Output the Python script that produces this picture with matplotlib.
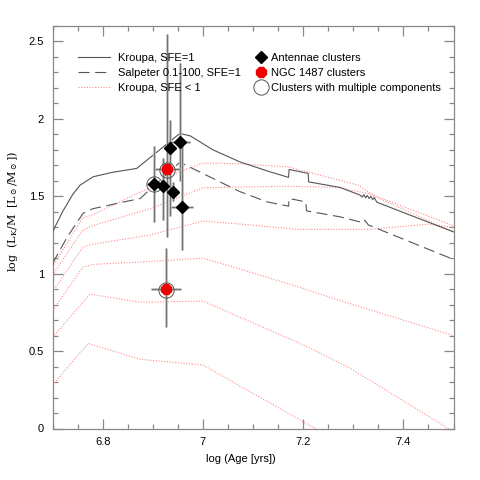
import matplotlib
matplotlib.use("Agg")
import matplotlib.pyplot as plt
from matplotlib.lines import Line2D
from matplotlib.ticker import MultipleLocator

plt.rcParams['font.family'] = ['Liberation Sans', 'DejaVu Sans']
plt.rcParams['mathtext.fontset'] = 'dejavuserif'

# ---------------- model curves ----------------
kroupa_x = [6.70, 6.72, 6.74, 6.755, 6.781, 6.82, 6.868, 6.91, 6.954, 6.975, 7.02, 7.074,
            7.134, 7.171, 7.172, 7.21, 7.211, 7.274, 7.314, 7.318, 7.321, 7.325, 7.328,
            7.332, 7.335, 7.339, 7.342, 7.347, 7.42, 7.50]
kroupa_y = [1.27, 1.40, 1.51, 1.572, 1.626, 1.655, 1.68, 1.79, 1.906, 1.89, 1.80, 1.722,
            1.658, 1.622, 1.673, 1.648, 1.593, 1.557, 1.507, 1.495, 1.51, 1.49, 1.505,
            1.485, 1.50, 1.478, 1.492, 1.462, 1.37, 1.27]

salp_x = [6.70, 6.73, 6.761, 6.781, 6.83, 6.875, 6.954, 7.074, 7.128, 7.171, 7.172,
          7.205, 7.207, 7.274, 7.32, 7.323, 7.33, 7.50]
salp_y = [1.066, 1.24, 1.39, 1.42, 1.455, 1.486, 1.72, 1.53, 1.464, 1.436, 1.486,
          1.464, 1.406, 1.367, 1.329, 1.345, 1.315, 1.092]

sfe_x = [
    [6.70, 6.76, 6.78, 6.87, 6.90, 6.935, 7.00, 7.07, 7.17, 7.31, 7.34, 7.50],
    [6.70, 6.76, 6.78, 6.895, 7.00, 7.17, 7.27, 7.33, 7.50],
    [6.70, 6.76, 6.78, 6.895, 7.00, 7.06, 7.19, 7.33, 7.45, 7.50],
    [6.70, 6.76, 6.78, 6.90, 7.00, 7.07, 7.19, 7.27, 7.50],
    [6.70, 6.775, 6.875, 7.00, 7.194, 7.294, 7.49],
    [6.70, 6.771, 6.875, 7.00, 7.224],
]
sfe_y = [
    [1.045, 1.36, 1.38, 1.52, 1.56, 1.636, 1.715, 1.71, 1.69, 1.572, 1.507, 1.31],
    [0.99, 1.28, 1.31, 1.42, 1.555, 1.565, 1.557, 1.518, 1.27],
    [0.88, 1.17, 1.19, 1.25, 1.34, 1.325, 1.286, 1.286, 1.32, 1.30],
    [0.76, 1.04, 1.06, 1.08, 1.10, 1.034, 0.915, 0.83, 0.60],
    [0.59, 0.868, 0.815, 0.823, 0.55, 0.389, 0.0],
    [0.28, 0.55, 0.447, 0.41, 0.0],
]

# ---------------- clusters ----------------
ant_x = [6.903, 6.920, 6.935, 6.955, 6.940, 6.958]
ant_y = [1.578, 1.566, 1.810, 1.850, 1.530, 1.430]
ant_xerr = [0.015, 0.010, 0.010, 0.020, 0.010, 0.022]
ant_ylo = [0.245, 0.22, 0.44, 0.25, 0.06, 0.28]
ant_yhi = [0.245, 0.18, 0.18, 0.51, 0.06, 0.43]

ngc_x = [6.929, 6.927]
ngc_y = [1.677, 0.898]
ngc_xerr = [0.025, 0.030]
ngc_ylo = [0.44, 0.24]
ngc_yhi = [0.87, 0.27]

multi_x = [6.903, 6.929, 6.927]
multi_y = [1.578, 1.672, 0.893]

fig = plt.figure(figsize=(4.8, 4.8), dpi=100)
ax = fig.add_axes([52.5 / 480, 1 - 428.5 / 480, 401 / 480, 402.5 / 480])

line_col = '#555555'
red_col = '#ff8a8a'

for xs, ys in zip(sfe_x, sfe_y):
    ax.plot(xs, ys, color=red_col, lw=0.8, ls=(0, (1, 1.5)), zorder=2)
ax.plot(salp_x, salp_y, color=line_col, lw=0.8, ls=(0, (10, 5)), zorder=3)
ax.plot(kroupa_x, kroupa_y, color=line_col, lw=0.8, zorder=3)

# error bars: light thick + dark thin
ax.errorbar(ant_x, ant_y, xerr=ant_xerr, yerr=[ant_ylo, ant_yhi], fmt='none',
            ecolor='#c0c0c0', elinewidth=2.0, capsize=0, zorder=4)
ax.errorbar(ant_x, ant_y, xerr=ant_xerr, yerr=[ant_ylo, ant_yhi], fmt='none',
            ecolor='#666666', elinewidth=0.6, capsize=0, zorder=4)
ax.errorbar(ngc_x, ngc_y, xerr=ngc_xerr, yerr=[ngc_ylo, ngc_yhi], fmt='none',
            ecolor='#c0c0c0', elinewidth=2.0, capsize=0, zorder=4)
ax.errorbar(ngc_x, ngc_y, xerr=ngc_xerr, yerr=[ngc_ylo, ngc_yhi], fmt='none',
            ecolor='#666666', elinewidth=0.6, capsize=0, zorder=4)

ax.plot(multi_x, multi_y, ls='none', marker='o', ms=11, mfc='none',
        mec='#555555', mew=0.7, zorder=5)
ax.plot(ant_x, ant_y, ls='none', marker='D', ms=6, color='black', zorder=6)
ax.plot(ngc_x, ngc_y, ls='none', marker='8', ms=8, color='#ee0000', zorder=6)

ax.set_xlim(6.7, 7.5)
ax.set_ylim(0, 2.6)
ax.set_xticks([6.8, 7.0, 7.2, 7.4])
ax.set_xticklabels(['6.8', '7', '7.2', '7.4'])
ax.set_yticks([0, 0.5, 1, 1.5, 2, 2.5])
ax.set_yticklabels(['0', '0.5', '1', '1.5', '2', '2.5'])
ax.xaxis.set_minor_locator(MultipleLocator(0.05))
ax.yaxis.set_minor_locator(MultipleLocator(0.1))
ax.tick_params(which='both', direction='in', top=True, right=True,
               color='#888888', labelsize=8, pad=6)
ax.tick_params(which='major', length=7, width=0.9)
ax.tick_params(which='minor', length=3.5, width=0.9)
for s in ax.spines.values():
    s.set_color('#888888')
    s.set_linewidth(0.9)

ax.set_xlabel('log (Age [yrs])', fontsize=8)
ax.xaxis.set_label_coords(0.47, -0.063)
ax.set_ylabel(r'$\mathrm{log\ \ (L_K/M\ \ [L_\odot/M_\odot])}$', fontsize=8)
ax.yaxis.set_label_coords(-0.082, 0.54)

h1 = [Line2D([], [], color=line_col, lw=0.8),
      Line2D([], [], color=line_col, lw=0.8, ls=(0, (10, 5))),
      Line2D([], [], color=red_col, lw=0.8, ls=(0, (1, 1.5)))]
l1 = ['Kroupa, SFE=1', 'Salpeter 0.1-100, SFE=1', 'Kroupa, SFE < 1']
leg1 = ax.legend(h1, l1, loc='upper left', bbox_to_anchor=(0.064, 0.932),
                 frameon=False, fontsize=8, handlelength=2.9, handletextpad=0.7,
                 labelspacing=0.45, borderpad=0, borderaxespad=0)
ax.add_artist(leg1)

h2 = [Line2D([], [], ls='none', marker='D', ms=6, color='black'),
      Line2D([], [], ls='none', marker='8', ms=8, color='#ee0000'),
      Line2D([], [], ls='none', marker='o', ms=11, mfc='none', mec='#555555', mew=0.7)]
l2 = ['Antennae clusters', 'NGC 1487 clusters', 'Clusters with multiple components']
ax.legend(h2, l2, loc='upper left', bbox_to_anchor=(0.505, 0.932),
          frameon=False, fontsize=8, handlelength=1.0, handletextpad=0.45,
          labelspacing=0.45, borderpad=0, borderaxespad=0)

fig.savefig('out.png', dpi=100)
